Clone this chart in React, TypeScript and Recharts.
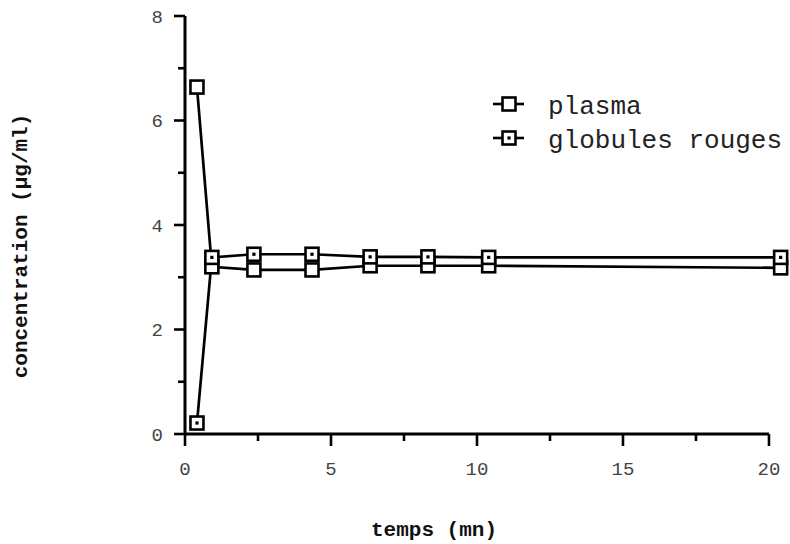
import React from 'react';
import { LineChart, Line, XAxis, YAxis, ReferenceLine } from 'recharts';

const times = [0.41, 0.92, 2.36, 4.35, 6.34, 8.32, 10.4, 20.4];
const plasma = [6.64, 3.2, 3.14, 3.14, 3.22, 3.22, 3.22, 3.18];
const globules = [0.21, 3.38, 3.44, 3.44, 3.39, 3.39, 3.38, 3.38];
const xTicks = [0, 2.5, 5, 7.5, 10, 12.5, 15, 17.5, 20];
const yTicks = [0, 1, 2, 3, 4, 5, 6, 7, 8];
const seriesNames = ['plasma', 'globules rouges'];
const xTitle = 'temps (mn)';
const yTitle = 'concentration (µg/ml)';

const data = times.map((t, i) => ({ t, plasma: plasma[i], globules: globules[i] }));

const FONT = '"Liberation Mono", "Courier New", monospace';

const SquareMark = ({ cx, cy, dotted }: any) => (
  <g>
    <rect x={cx - 6.5} y={cy - 6.5} width={13} height={13} fill="#fff" stroke="#000" strokeWidth={2.6} />
    {dotted && <rect x={cx - 1.6} y={cy - 1.6} width={3.2} height={3.2} fill="#000" />}
  </g>
);

const makeDot = (dotted: boolean) => (props: any) => {
  const { cx, cy, index } = props;
  if (cx == null || cy == null) return <g key={`e${index}`} />;
  return (
    <g key={`d${dotted ? 'g' : 'p'}${index}`}>
      <SquareMark cx={cx} cy={cy} dotted={dotted} />
    </g>
  );
};

const XTick = ({ x, y, payload }: any) => {
  const v = payload.value;
  const major = v % 5 === 0;
  return (
    <g>
      <line x1={x} y1={y} x2={x} y2={y + (major ? 12 : 7)} stroke="#000" strokeWidth={2.6} />
      {major && (
        <text x={x} y={y + 41} textAnchor="middle" fontFamily={FONT} fontSize={19} fill="#444">
          {v}
        </text>
      )}
    </g>
  );
};

const YTick = ({ x, y, payload }: any) => {
  const v = payload.value;
  const major = v % 2 === 0;
  return (
    <g>
      <line x1={x} y1={y} x2={x - (major ? 11 : 7)} y2={y} stroke="#000" strokeWidth={2.6} />
      {major && (
        <text x={x - 22} y={y} dy="0.35em" textAnchor="end" fontFamily={FONT} fontSize={19} fill="#444">
          {v}
        </text>
      )}
    </g>
  );
};

export default function App() {
  return (
    <div style={{ position: 'absolute', left: 0, top: 0, width: 790, height: 544, background: '#fff' }}>
      <LineChart
        width={790}
        height={544}
        data={data}
        margin={{ top: 16, right: 3.5, left: 125, bottom: 0 }}
      >
        <XAxis
          type="number"
          dataKey="t"
          domain={[0, 20.6]}
          ticks={xTicks}
          interval={0}
          axisLine={false}
          tickLine={false}
          tickSize={0}
          tickMargin={0}
          tick={<XTick />}
          height={110}
        />
        <YAxis
          type="number"
          domain={[0, 8]}
          ticks={yTicks}
          interval={0}
          axisLine={{ stroke: '#000', strokeWidth: 3 }}
          tickLine={false}
          tickSize={0}
          tickMargin={0}
          tick={<YTick />}
          width={60}
        />
        <ReferenceLine
          segment={[{ x: 0, y: 0 }, { x: 20, y: 0 }]}
          stroke="#000"
          strokeWidth={3}
          ifOverflow="visible"
        />
        <Line
          type="linear"
          dataKey="plasma"
          name={seriesNames[0]}
          stroke="#000"
          strokeWidth={2.7}
          dot={makeDot(false)}
          isAnimationActive={false}
        />
        <Line
          type="linear"
          dataKey="globules"
          name={seriesNames[1]}
          stroke="#000"
          strokeWidth={2.7}
          dot={makeDot(true)}
          isAnimationActive={false}
        />
      </LineChart>
      <svg
        width={790}
        height={544}
        style={{ position: 'absolute', left: 0, top: 0, pointerEvents: 'none' }}
      >
        <text
          x={434}
          y={530}
          textAnchor="middle"
          dominantBaseline="central"
          fontFamily={FONT}
          fontWeight="bold"
          fontSize={21}
          fill="#111"
        >
          {xTitle}
        </text>
        <text
          transform="translate(21,246) rotate(-90)"
          textAnchor="middle"
          dominantBaseline="central"
          fontFamily={FONT}
          fontWeight="bold"
          fontSize={21}
          fill="#111"
        >
          {yTitle}
        </text>
        {seriesNames.map((name, i) => {
          const cy = i === 0 ? 104 : 138;
          return (
            <g key={name}>
              <line x1={493} y1={cy} x2={524} y2={cy} stroke="#000" strokeWidth={2.6} />
              <SquareMark cx={509} cy={cy} dotted={i === 1} />
              <text x={548} y={cy} dy="0.4em" fontFamily={FONT} fontSize={26} fill="#222">
                {name}
              </text>
            </g>
          );
        })}
      </svg>
    </div>
  );
}
